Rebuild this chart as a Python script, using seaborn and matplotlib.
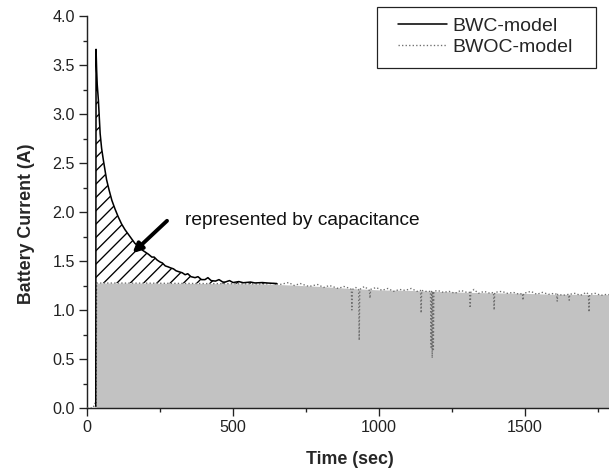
import numpy as np
import pandas as pd
import matplotlib
matplotlib.use("Agg")
import matplotlib.pyplot as plt
from matplotlib.patches import Rectangle
import seaborn as sns

# BWC-model: capacitive decay (time in sec, current in A)
bwc_t = [30, 31, 33, 35, 39, 45, 50, 56, 62, 67, 76, 85, 96, 107, 118, 130,
         147, 164, 177, 190, 200, 210, 222, 230, 240, 250, 258, 268, 278,
         286, 296, 305, 315, 326, 336, 345, 356, 370, 380, 392, 404, 414,
         425, 440, 452, 465, 473, 488, 500, 520, 535, 560, 575, 600, 620, 650]
bwc_i = [0.02, 3.66, 3.45, 3.30, 3.14, 2.80, 2.65, 2.53, 2.42, 2.33, 2.22,
         2.12, 2.03, 1.95, 1.88, 1.82, 1.75, 1.68, 1.65, 1.61, 1.59, 1.57,
         1.54, 1.54, 1.51, 1.49, 1.48, 1.45, 1.44, 1.43, 1.42, 1.40, 1.39,
         1.38, 1.36, 1.37, 1.34, 1.33, 1.34, 1.31, 1.31, 1.33, 1.30, 1.295,
         1.31, 1.285, 1.285, 1.30, 1.28, 1.29, 1.278, 1.285, 1.276, 1.28,
         1.275, 1.27]

# BWOC-model: smooth level (top of the grey area)
base_t = [31, 33, 100, 200, 300, 400, 500, 600, 700, 800, 900, 1000, 1100,
          1200, 1300, 1400, 1500, 1600, 1700, 1830]
base_i = [0.0, 1.275, 1.275, 1.274, 1.272, 1.270, 1.268, 1.265, 1.255, 1.24,
          1.22, 1.205, 1.20, 1.19, 1.18, 1.175, 1.17, 1.16, 1.16, 1.155]

# BWOC-model: noisy dotted trace with its dips
bwoc_t = [0, 20, 25, 28, 30, 31, 33, 100, 200, 300, 400, 500, 600, 640, 660,
          690, 710, 730, 760, 790, 810, 830, 860, 880, 900, 905, 907, 909, 920,
          930, 932, 934, 950, 967, 969, 971, 990, 1010, 1030, 1050, 1070, 1090,
          1110, 1130, 1142, 1144, 1146, 1160, 1176, 1178, 1180, 1182, 1184,
          1186, 1188, 1200, 1220, 1240, 1260, 1280, 1300, 1310, 1312, 1314,
          1325, 1340, 1360, 1380, 1392, 1394, 1396, 1420, 1440, 1460, 1480,
          1491, 1493, 1495, 1520, 1540, 1560, 1580, 1600, 1608, 1610, 1612,
          1630, 1649, 1651, 1653, 1670, 1690, 1710, 1717, 1719, 1721, 1740,
          1760, 1780, 1800, 1830]
bwoc_i = [0.0, 0.0, 0.03, 0.05, 0.0, 0.0, 1.275, 1.275, 1.274, 1.272, 1.27,
          1.268, 1.265, 1.27, 1.26, 1.28, 1.25, 1.27, 1.24, 1.26, 1.23, 1.25,
          1.22, 1.24, 1.22, 1.21, 1.00, 1.21, 1.23, 1.21, 0.69, 1.21, 1.24,
          1.20, 1.12, 1.21, 1.23, 1.20, 1.22, 1.19, 1.21, 1.20, 1.22, 1.19,
          1.20, 0.97, 1.20, 1.19, 1.19, 0.62, 1.19, 0.51, 1.19, 0.58, 1.19,
          1.20, 1.18, 1.19, 1.17, 1.20, 1.18, 1.18, 1.02, 1.18, 1.21, 1.17,
          1.19, 1.17, 1.18, 1.00, 1.18, 1.19, 1.17, 1.18, 1.16, 1.17, 1.10,
          1.17, 1.19, 1.16, 1.18, 1.16, 1.17, 1.16, 1.09, 1.16, 1.15, 1.16,
          1.10, 1.16, 1.17, 1.15, 1.18, 1.16, 0.98, 1.16, 1.17, 1.15, 1.16,
          1.15, 1.155]

bwc = pd.DataFrame({"t": bwc_t, "i": bwc_i})
bwoc = pd.DataFrame({"t": bwoc_t, "i": bwoc_i})

sns.set_theme(style="ticks")
plt.rcParams["font.family"] = ["Liberation Sans", "DejaVu Sans"]
plt.rcParams["hatch.linewidth"] = 1.2

fig = plt.figure(figsize=(609 / 80, 473 / 80), dpi=80)
ax = fig.add_axes([87 / 609, 65 / 473, (620 - 87) / 609, (408 - 16) / 473])

# grey area under the BWOC level
ax.fill_between(base_t, 0, base_i, color="#c2c2c2", linewidth=0, zorder=1)

# hatched area between the two models = capacitance contribution
t_arr = np.array(bwc_t[1:])
lvl = np.interp(t_arr, base_t, base_i)
ax.fill_between(t_arr, lvl, np.maximum(np.array(bwc_i[1:]), lvl),
                facecolor="none", edgecolor="black", hatch="//", linewidth=0,
                zorder=2)

sns.lineplot(data=bwc, x="t", y="i", ax=ax, color="black", lw=1.4,
             estimator=None, sort=False, label="BWC-model", zorder=4)
sns.lineplot(data=bwoc, x="t", y="i", ax=ax, color="#6e6e6e", lw=1.2,
             linestyle=":", estimator=None, sort=False, label="BWOC-model",
             zorder=3)

ax.set_xlim(0, 1825)
ax.set_ylim(0, 4.0)
ax.set_xticks([0, 500, 1000, 1500])
ax.set_xticks(np.arange(250, 1826, 500), minor=True)
ax.set_yticks(np.arange(0, 4.01, 0.5))
ax.set_yticks(np.arange(0.25, 4.0, 0.5), minor=True)
ax.set_yticklabels([f"{v:.1f}" for v in np.arange(0, 4.01, 0.5)])
ax.tick_params(which="major", length=7, width=1.2, labelsize=14.5,
               direction="out", pad=4, colors="#222222")
ax.tick_params(which="minor", length=4, width=1.2, direction="out",
               colors="#222222")
sns.despine(ax=ax)
for s in ["left", "bottom"]:
    ax.spines[s].set_linewidth(1.3)
    ax.spines[s].set_color("#222222")

ax.set_xlabel("Time (sec)", fontsize=16, fontweight="bold")
ax.set_ylabel("Battery Current (A)", fontsize=16, fontweight="bold")
ax.xaxis.set_label_coords(0.493, -0.11)
ax.yaxis.set_label_coords(-0.098, 0.469)

ax.annotate("", xy=(156, 1.58), xytext=(274, 1.91),
            arrowprops=dict(arrowstyle="-|>", lw=3.5, color="black",
                            mutation_scale=17, shrinkA=0, shrinkB=0), zorder=6)
ax.text(336, 1.87, "represented by capacitance", fontsize=17.2,
        va="baseline", color="#111111")

# legend without frame, plus a hand-placed box like the original
leg = ax.legend(loc="upper left", bbox_to_anchor=(398 / 609, 1 - 17 / 473),
                bbox_transform=fig.transFigure, frameon=False,
                fontsize=17.5, handlelength=2.5, handletextpad=0.3,
                borderpad=0, labelspacing=0.2, borderaxespad=0)
fig.patches.append(Rectangle((377 / 609, 1 - 68 / 473), 219 / 609, 61 / 473,
                             transform=fig.transFigure, fill=False,
                             edgecolor="#222222", linewidth=1.1))

fig.savefig("out.png", dpi=80)
